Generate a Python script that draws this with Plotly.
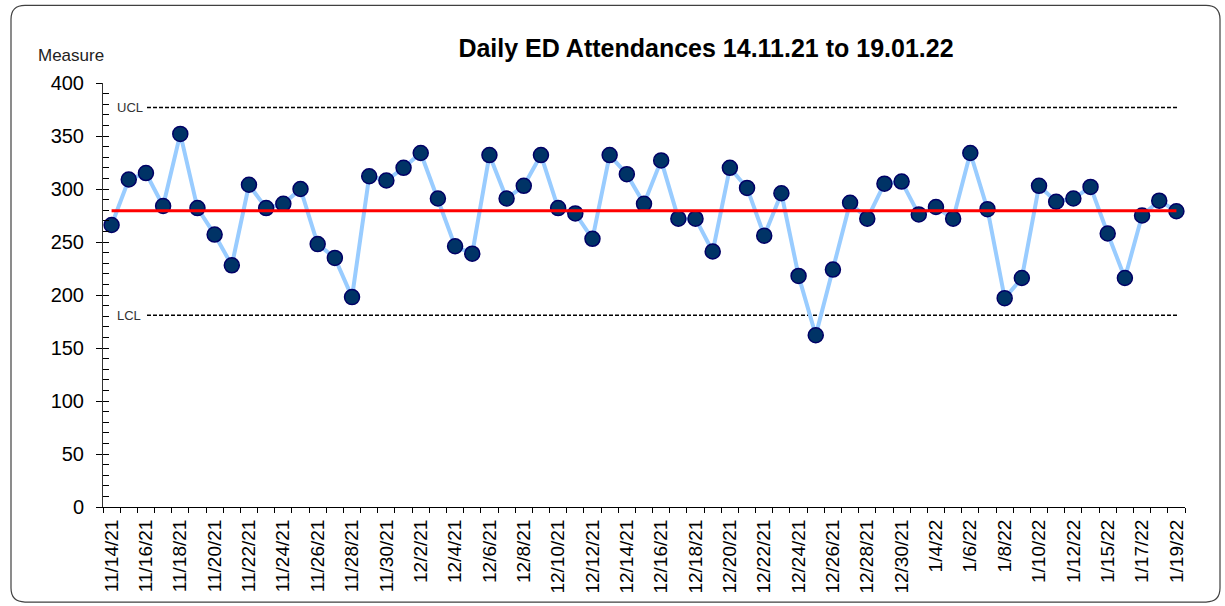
import plotly.graph_objects as go

dates = [
    "11/14/21", "11/15/21", "11/16/21", "11/17/21", "11/18/21", "11/19/21", "11/20/21",
    "11/21/21", "11/22/21", "11/23/21", "11/24/21", "11/25/21", "11/26/21", "11/27/21",
    "11/28/21", "11/29/21", "11/30/21", "12/1/21", "12/2/21", "12/3/21", "12/4/21",
    "12/5/21", "12/6/21", "12/7/21", "12/8/21", "12/9/21", "12/10/21", "12/11/21",
    "12/12/21", "12/13/21", "12/14/21", "12/15/21", "12/16/21", "12/17/21", "12/18/21",
    "12/19/21", "12/20/21", "12/21/21", "12/22/21", "12/23/21", "12/24/21", "12/25/21",
    "12/26/21", "12/27/21", "12/28/21", "12/29/21", "12/30/21", "12/31/21", "1/4/22",
    "1/5/22", "1/6/22", "1/7/22", "1/8/22", "1/9/22", "1/10/22", "1/11/22",
    "1/12/22", "1/14/22", "1/15/22", "1/16/22", "1/17/22", "1/18/22", "1/19/22",
]

attendances = [
    266, 309, 315, 284, 352, 282, 257, 228, 304, 282,
    286, 300, 248, 235, 198, 312, 308, 320, 334, 291,
    246, 239, 332, 291, 303, 332, 282, 277, 253, 332,
    314, 286, 327, 272, 272, 241, 320, 301, 256, 296,
    218, 162, 224, 287, 272, 305, 307, 276, 283, 272,
    334, 281, 197, 216, 303, 288, 291, 302, 258, 216,
    275, 289, 279,
]

center_line = 279.5
ucl = 377
lcl = 181

y_ticks = [0, 50, 100, 150, 200, 250, 300, 350, 400]

idx = list(range(len(dates)))
label_idx = idx[::2]
label_text = [dates[i] for i in label_idx]

FONT = "Liberation Sans, Arial, sans-serif"

# pixel layout helpers (plot area)
W, H = 1225, 606
L, R, T, B = 103, 1185, 83, 509
pw, ph = R - L, B - T


def px_x(p):
    return (p - L) / pw


def px_y(p):
    return (B - p) / ph


fig = go.Figure()

# blue connecting line
fig.add_trace(go.Scatter(
    x=idx, y=attendances, mode="lines",
    line=dict(color="#99CCFF", width=4),
    showlegend=False, hoverinfo="skip",
))

# centre line
fig.add_trace(go.Scatter(
    x=[idx[0], idx[-1]], y=[center_line, center_line], mode="lines",
    line=dict(color="#FF0000", width=3),
    showlegend=False, hoverinfo="skip", yaxis="y2",
))

# markers
fig.add_trace(go.Scatter(
    x=idx, y=attendances, mode="markers",
    marker=dict(size=15, color="#003366", line=dict(color="#000066", width=1.5)),
    showlegend=False, text=dates, hovertemplate="%{text}: %{y}<extra></extra>",
))

shapes = []
for val in (ucl, lcl):
    shapes.append(dict(
        type="line", xref="paper", yref="y",
        x0=px_x(147), x1=px_x(1179), y0=val, y1=val,
        line=dict(color="black", width=1.5, dash="4px,2px"),
        layer="below",
    ))

# outer rounded border
x0, x1 = px_x(11), px_x(1220)
y0, y1 = px_y(5), px_y(604.5)
rx, ry = 14 / pw, 14 / ph
path = (
    f"M {x0 + rx},{y0} L {x1 - rx},{y0} Q {x1},{y0} {x1},{y0 - ry} "
    f"L {x1},{y1 + ry} Q {x1},{y1} {x1 - rx},{y1} "
    f"L {x0 + rx},{y1} Q {x0},{y1} {x0},{y1 + ry} "
    f"L {x0},{y0 - ry} Q {x0},{y0} {x0 + rx},{y0} Z"
)
shapes.append(dict(type="path", xref="paper", yref="paper", path=path,
                   line=dict(color="#404040", width=1.2), layer="below"))

annotations = [
    dict(text="Measure", xref="paper", yref="paper", x=px_x(36), y=px_y(55),
         xanchor="left", yanchor="middle", showarrow=False,
         font=dict(family=FONT, size=17, color="#222222")),
    dict(text="UCL", xref="paper", yref="y", x=px_x(115), y=ucl,
         xanchor="left", yanchor="middle", showarrow=False,
         font=dict(family=FONT, size=13, color="#333333")),
    dict(text="LCL", xref="paper", yref="y", x=px_x(115), y=lcl,
         xanchor="left", yanchor="middle", showarrow=False,
         font=dict(family=FONT, size=13, color="#333333")),
]

fig.update_layout(
    width=W, height=H, autosize=False,
    margin=dict(l=L, r=W - R, t=T, b=H - B),
    paper_bgcolor="white", plot_bgcolor="white",
    title=dict(text="<b>Daily ED Attendances 14.11.21 to 19.01.22</b>",
               xref="paper", x=px_x(706), xanchor="center",
               yref="container", y=1 - 48 / H, yanchor="middle",
               font=dict(family=FONT, size=25, color="black")),
    xaxis=dict(
        range=[-0.5, len(dates) - 0.5], tickmode="array",
        tickvals=label_idx, ticktext=label_text, ticks="",
        tickangle=-90, tickfont=dict(family=FONT, size=19, color="black"),
        showline=True, linecolor="black", linewidth=1,
        showgrid=False, zeroline=False, ticklabelstandoff=4,
        minor=dict(tickmode="linear", tick0=-0.5, dtick=1, ticks="outside",
                   ticklen=5, tickcolor="black", tickwidth=1, showgrid=False),
    ),
    yaxis=dict(
        range=[0, 400], tickmode="array", tickvals=y_ticks,
        ticks="outside", ticklen=6, tickcolor="black", tickwidth=1,
        tickfont=dict(family=FONT, size=20, color="black"),
        showline=True, linecolor="#333333", linewidth=1,
        showgrid=False, zeroline=False, ticklabelstandoff=8,
    ),
    yaxis2=dict(
        range=[0, 400], overlaying="y", side="left", anchor="x",
        tickmode="linear", tick0=0, dtick=10, ticks="inside", ticklen=6,
        tickcolor="black", tickwidth=1, showticklabels=False,
        showline=False, showgrid=False, zeroline=False,
    ),
    shapes=shapes,
    annotations=annotations,
)

fig.write_html(
    "out.html",
    config={"displayModeBar": False},
    post_script="document.body.style.margin='0';document.body.style.overflow='hidden';",
)
